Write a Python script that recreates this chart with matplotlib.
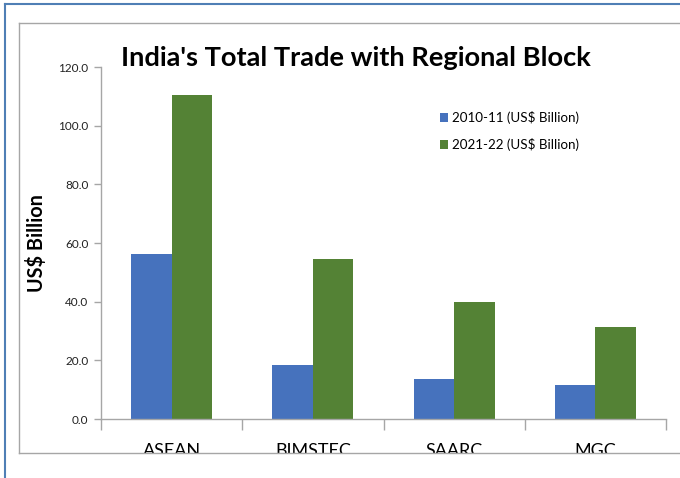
import matplotlib
matplotlib.use("Agg")
import matplotlib.pyplot as plt
from matplotlib.patches import Rectangle
from matplotlib.lines import Line2D
import numpy as np

categories = ["ASEAN", "BIMSTEC", "SAARC", "MGC"]
trade_2010_11 = [56.3, 18.4, 13.6, 11.6]
trade_2021_22 = [110.5, 54.5, 39.9, 31.4]
series_labels = ["2010-11 (US$ Billion)", "2021-22 (US$ Billion)"]
yticks = [0, 20, 40, 60, 80, 100, 120]
title = "India's Total Trade with Regional Block"
ylabel = "US$ Billion"

BLUE = "#4672BD"
GREEN = "#548235"
GRAY = "#A6A6A6"
FONT = ["Lato", "DejaVu Sans"]

W, H = 680, 478
fig = plt.figure(figsize=(W / 100, H / 100), dpi=100)
fig.patch.set_facecolor("white")

def fx(px):
    return px / W

def fy(py):
    return 1 - py / H

# axes: x 101..666, y 67..419
ax = fig.add_axes([fx(101), fy(419), fx(666) - fx(101), fy(67) - fy(419)])
x = np.arange(len(categories))
bw = 0.287
ax.bar(x - bw / 2, trade_2010_11, bw, color=BLUE, label=series_labels[0], zorder=2)
ax.bar(x + bw / 2, trade_2021_22, bw, color=GREEN, label=series_labels[1], zorder=2)

ax.set_xlim(-0.5, len(categories) - 0.5)
ax.set_ylim(0, 120)
ax.set_yticks(yticks)
ax.set_yticklabels([f"{v:.1f}" for v in yticks], fontsize=8.5, color="#222222", family=FONT)
ax.set_xticks(x)
ax.set_xticklabels(categories, fontsize=13, family=FONT, color="black")
ax.set_xticks(np.arange(len(categories) + 1) - 0.5, minor=True)
ax.tick_params(axis="x", which="major", length=0, pad=17)
ax.tick_params(axis="x", which="minor", length=8, color=GRAY, width=1, direction="out")
ax.tick_params(axis="y", length=5, color=GRAY, width=1, pad=4)

for s in ["top", "right"]:
    ax.spines[s].set_visible(False)
ax.spines["left"].set_color(GRAY)
ax.spines["bottom"].set_color(GRAY)
ax.spines["left"].set_linewidth(1)
ax.spines["bottom"].set_linewidth(1)

ax.set_ylabel(ylabel, fontsize=14.3, fontweight="bold", family=FONT, va="center")
ax.yaxis.set_label_coords((37 - 101) / 565, 0.5)

fig.text(fx(356), fy(58), title, ha="center", va="center", fontsize=19.6,
         fontweight="bold", family=FONT)

leg = ax.legend(loc="upper left", bbox_to_anchor=(fx(428), fy(99)), bbox_transform=fig.transFigure,
                frameon=False, prop={"family": FONT, "size": 9.6},
                handlelength=0.6, handleheight=0.6, handletextpad=0.3, labelspacing=1.05)

# cover clipped label bottoms
fig.add_artist(Rectangle((fx(19), 0), 1, fy(453), transform=fig.transFigure,
                         facecolor="white", edgecolor="none", zorder=10))
# inner gray frame
fig.add_artist(Line2D([fx(19), 1], [fy(23), fy(23)], color=GRAY, lw=1, zorder=11))
fig.add_artist(Line2D([fx(19), 1], [fy(453), fy(453)], color=GRAY, lw=1, zorder=11))
fig.add_artist(Line2D([fx(19), fx(19)], [fy(23), fy(453)], color=GRAY, lw=1, zorder=11))
# outer blue frame
fig.add_artist(Line2D([fx(4.5), 1], [fy(4), fy(4)], color="#4F7FB5", lw=1.5, zorder=11))
fig.add_artist(Line2D([fx(4.5), fx(4.5)], [0, fy(4)], color="#4F7FB5", lw=1.5, zorder=11))

fig.savefig("out.png", dpi=100)
